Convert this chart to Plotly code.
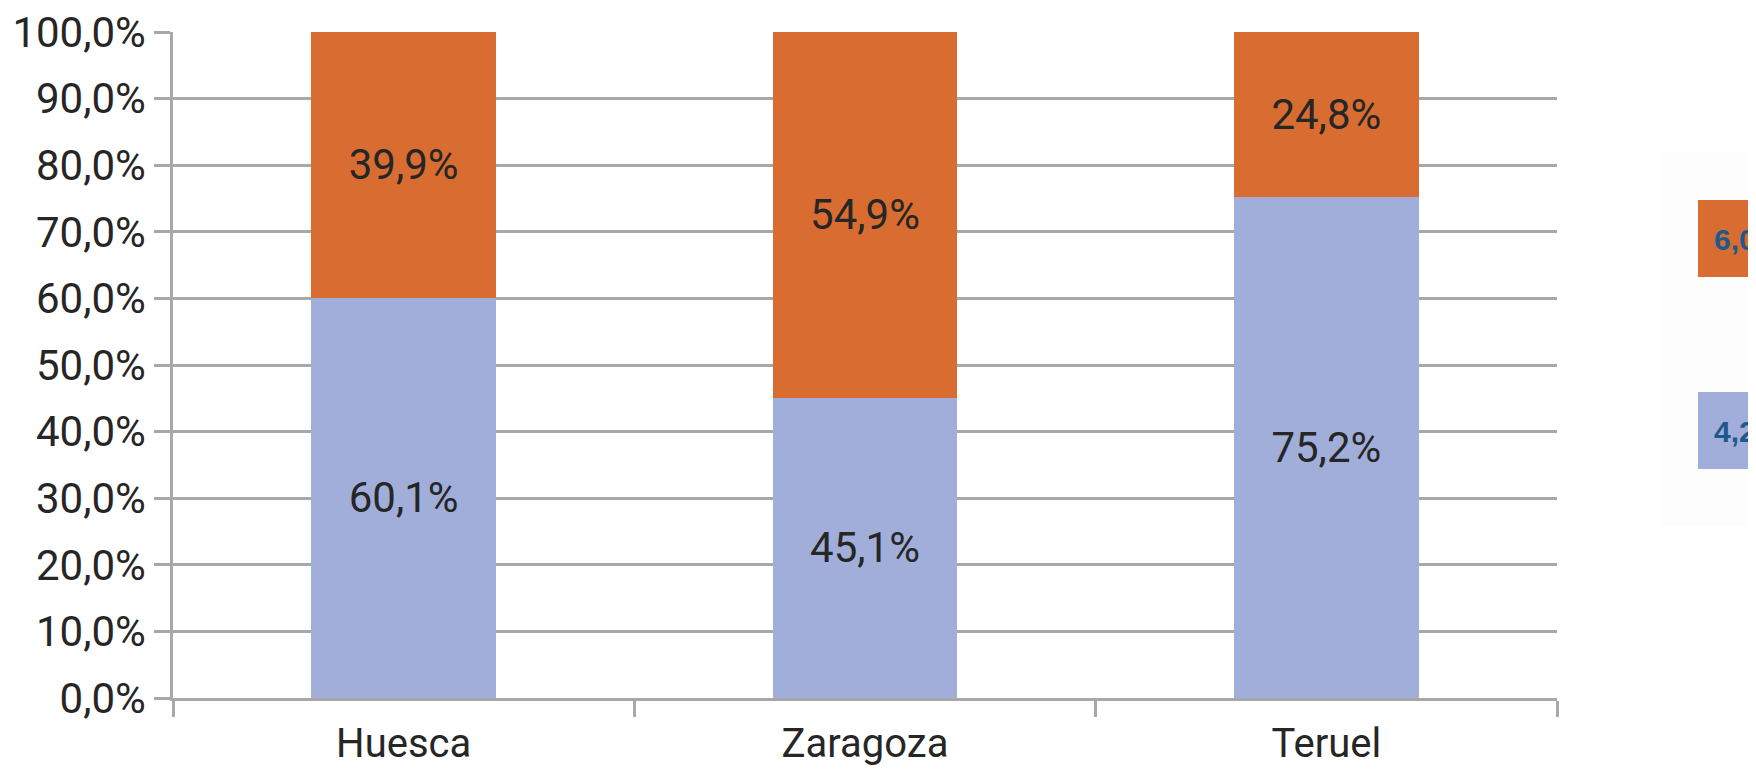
import plotly.graph_objects as go

categories = ["Huesca", "Zaragoza", "Teruel"]
blue_values = [60.1, 45.1, 75.2]
orange_values = [39.9, 54.9, 24.8]
y_ticks = [0, 10, 20, 30, 40, 50, 60, 70, 80, 90, 100]
y_tick_labels = [f"{v:.1f}%".replace(".", ",") for v in y_ticks]
legend_texts = ["6,0", "4,2"]

BLUE = "#A1AED9"
ORANGE = "#D96C31"
GRID = "#A8A8A8"
FONT = "Roboto"
TXT = "#262626"

fig = go.Figure()
for vals, col in ((blue_values, BLUE), (orange_values, ORANGE)):
    fig.add_trace(go.Bar(
        x=categories, y=vals, marker=dict(color=col, line=dict(width=0)),
        text=[f"{v:.1f}%".replace(".", ",") for v in vals],
        texttemplate="%{text}", textposition="inside", insidetextanchor="middle",
        textfont=dict(family=FONT, size=42, color=TXT), showlegend=False,
        cliponaxis=False,
    ))

# page has an 8px body margin; figure occupies 8..1756 x 8..771
OFF = 8
W, H = 1756 - OFF, 771 - OFF
ml = 173 - OFF
mt = 32 - OFF
mr = W - (1557 - OFF)
mb = H - (698 - OFF)
pw = W - ml - mr
ph = H - mt - mb


def px_x(x):
    return (x - OFF - ml) / pw


def px_y(y):
    return (H - mb - (y - OFF)) / ph


shapes = [
    dict(type="rect", xref="paper", yref="paper", x0=px_x(1660), x1=px_x(1800),
         y0=px_y(526), y1=px_y(152), fillcolor="#FDFDFD", line=dict(width=0), layer="below"),
    dict(type="rect", xref="paper", yref="paper", x0=px_x(1698), x1=px_x(1800),
         y0=px_y(277), y1=px_y(200), fillcolor=ORANGE, line=dict(width=0)),
    dict(type="rect", xref="paper", yref="paper", x0=px_x(1698), x1=px_x(1800),
         y0=px_y(469), y1=px_y(392), fillcolor=BLUE, line=dict(width=0)),
]
annotations = [
    dict(xref="paper", yref="paper", x=px_x(1713), y=px_y(239), xanchor="left", yanchor="middle",
         text="<b>" + legend_texts[0] + "</b>", showarrow=False, borderpad=0,
         font=dict(family="Liberation Sans", size=30, color="#1D5A8C")),
    dict(xref="paper", yref="paper", x=px_x(1713), y=px_y(431), xanchor="left", yanchor="middle",
         text="<b>" + legend_texts[1] + "</b>", showarrow=False, borderpad=0,
         font=dict(family="Liberation Sans", size=30, color="#1D5A8C")),
]

fig.update_layout(
    barmode="stack",
    bargap=0.6,
    width=W, height=H,
    margin=dict(l=ml, r=mr, t=mt, b=mb, autoexpand=False),
    paper_bgcolor="white", plot_bgcolor="white",
    font=dict(family=FONT, color=TXT),
    shapes=shapes,
    annotations=annotations,
)
fig.update_yaxes(
    range=[0, 100], tickvals=y_ticks, ticktext=y_tick_labels,
    ticklabeloverflow="allow",
    showgrid=True, gridcolor=GRID, gridwidth=2.5,
    showline=True, linecolor=GRID, linewidth=2.5,
    ticks="outside", ticklen=16, tickwidth=2.5, tickcolor=GRID,
    tickfont=dict(family=FONT, size=42, color=TXT), zeroline=False,
)
fig.update_xaxes(
    showline=True, linecolor=GRID, linewidth=2.5,
    ticks="outside", tickson="boundaries", ticklen=16, tickwidth=2.5, tickcolor=GRID,
    ticklabelstandoff=8,
    tickfont=dict(family=FONT, size=40, color=TXT), showgrid=False,
)

fig.write_html("out.html")
